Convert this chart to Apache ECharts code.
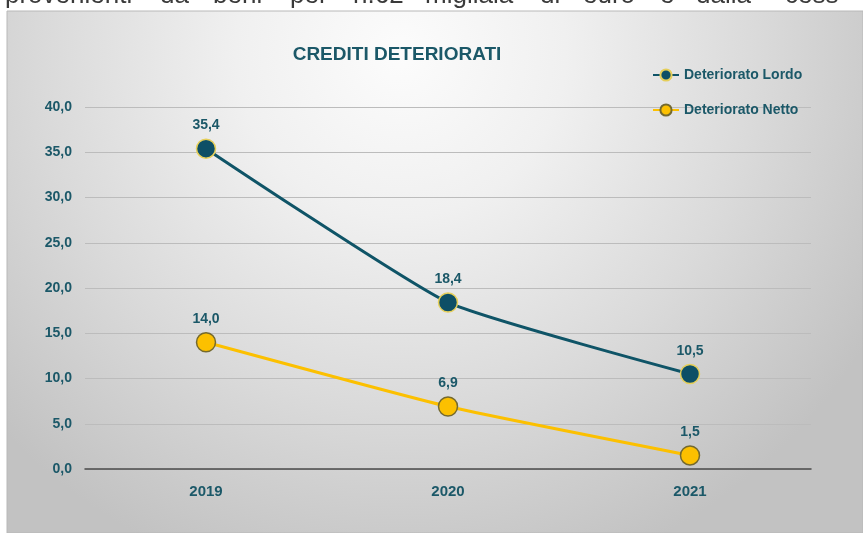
<!DOCTYPE html>
<html>
<head>
<meta charset="utf-8">
<script src="https://cdn.jsdelivr.net/npm/echarts@6/dist/echarts.min.js"></script>
<style>
html,body{margin:0;padding:0;background:#fff;}
#c{width:863px;height:533px;}
</style>
</head>
<body>
<div id="c"></div>
<script>
const categories = ['2019', '2020', '2021'];
const lordo = [35.4, 18.4, 10.5];
const netto = [14.0, 6.9, 1.5];
const seriesNames = ['Deteriorato Lordo', 'Deteriorato Netto'];
const titleText = 'CREDITI DETERIORATI';
const topWords = ['provenienti', 'da', 'beni', 'per', 'n.62', 'migliaia', 'di', 'euro', 'e', 'dalla', 'cess'];

const teal = '#1b5868';
const fmt = v => Number(v).toFixed(1).replace('.', ',');

const chart = echarts.init(document.getElementById('c'), null, {renderer: 'canvas'});

// top body text (cut off by the slide frame)
const wordX = [5, 160, 213, 290, 353, 425, 540, 583, 660, 696, 785];
const graphics = topWords.map((w, i) => ({
  type: 'text', left: wordX[i], top: -17, z: 0,
  style: {text: w, fill: '#3a3a3a', font: '26px "Liberation Sans", Arial, sans-serif'}
}));
graphics.push({
  type: 'rect', shape: {x: 7, y: 11, width: 856, height: 522}, z: 0, silent: true,
  style: {
    fill: {
      type: 'radial', x: 0.46, y: 0.08, r: 1.05,
      colorStops: [
        {offset: 0, color: '#fcfcfc'},
        {offset: 0.3, color: '#f0f0f0'},
        {offset: 0.65, color: '#dadada'},
        {offset: 1, color: '#c2c2c2'}
      ]
    },
    stroke: '#b8b8b8', lineWidth: 1
  }
});

chart.setOption({
  animation: false,
  backgroundColor: '#ffffff',
  graphic: {elements: graphics},
  title: {
    text: titleText, left: 392, top: 40, textAlign: 'center',
    textStyle: {color: teal, fontSize: 19, fontWeight: 'bold', fontFamily: '"Liberation Sans", Arial, sans-serif'}
  },
  legend: {
    orient: 'vertical', left: 647, top: 63, itemWidth: 26, itemHeight: 14, itemGap: 21,
    data: seriesNames,
    textStyle: {color: teal, fontSize: 14, fontWeight: 'bold', fontFamily: '"Liberation Sans", Arial, sans-serif'}
  },
  grid: {left: 85, right: 52, top: 107, bottom: 64},
  xAxis: {
    type: 'category', data: categories, boundaryGap: true,
    axisLine: {lineStyle: {color: '#4a4a4a', width: 1.5}},
    axisTick: {show: false},
    axisLabel: {color: teal, fontSize: 15, fontWeight: 'bold', margin: 15, fontFamily: '"Liberation Sans", Arial, sans-serif'}
  },
  yAxis: {
    type: 'value', min: 0, max: 40, interval: 5,
    axisLine: {show: false}, axisTick: {show: false},
    splitLine: {lineStyle: {color: '#bcbcbc', width: 1}},
    axisLabel: {color: teal, fontSize: 14, fontWeight: 'bold', margin: 13, formatter: fmt, fontFamily: '"Liberation Sans", Arial, sans-serif'}
  },
  series: [
    {
      name: seriesNames[0], type: 'line', data: lordo, smooth: 0.15,
      symbol: 'circle', symbolSize: 19,
      lineStyle: {color: '#0f5467', width: 3},
      itemStyle: {color: '#0d4f66', borderColor: '#e6cf5a', borderWidth: 1.5},
      label: {show: true, position: 'top', distance: 6, formatter: p => fmt(p.value), color: teal, fontSize: 14, fontWeight: 'bold', fontFamily: '"Liberation Sans", Arial, sans-serif'},
      z: 3
    },
    {
      name: seriesNames[1], type: 'line', data: netto, smooth: 0.15,
      symbol: 'circle', symbolSize: 19,
      lineStyle: {color: '#fcc000', width: 3},
      itemStyle: {color: '#fcc000', borderColor: '#74692e', borderWidth: 1.5},
      label: {show: true, position: 'top', distance: 6, formatter: p => fmt(p.value), color: teal, fontSize: 14, fontWeight: 'bold', fontFamily: '"Liberation Sans", Arial, sans-serif'},
      z: 3
    }
  ]
});
</script>
</body>
</html>
